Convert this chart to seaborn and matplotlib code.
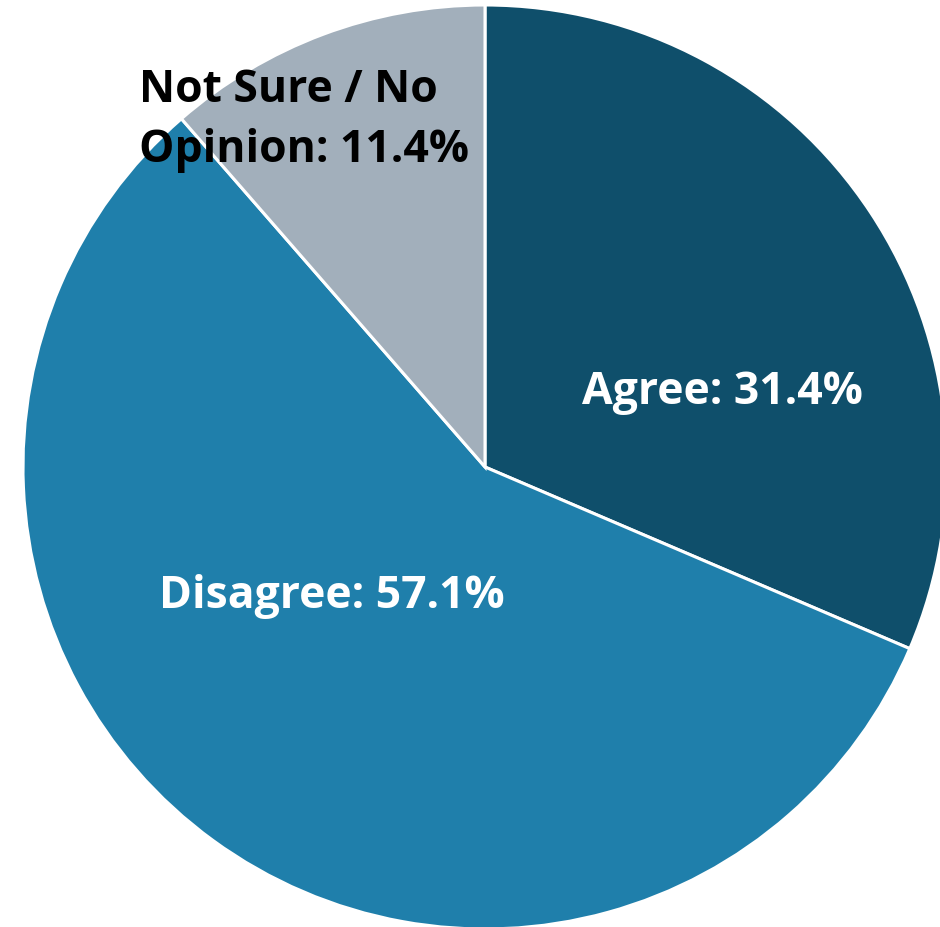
import matplotlib
matplotlib.use("Agg")
import matplotlib.pyplot as plt
import seaborn as sns

# survey result shares
categories = ["Agree", "Disagree", "Not Sure / No\nOpinion"]
shares = [31.4, 57.1, 11.4]
colors = ["#0f4f6b", "#1f7fab", "#a2afbb"]
label_colors = ["white", "white", "black"]

sns.set_style("white")
plt.rcParams['font.family'] = ['Open Sans', 'DejaVu Sans']

fig = plt.figure(figsize=(9.4, 9.27), dpi=100)
ax = fig.add_axes([0, 0, 1, 1])

ax.pie(
    shares,
    colors=colors,
    startangle=90,
    counterclock=False,
    radius=1.0,
    wedgeprops=dict(edgecolor="white", linewidth=2.2),
)

# label anchor spots (axes data units, pie radius = 1)
label_pos = [(0.513, 0.162, "center"), (-0.331, -0.281, "center"), (-0.749, 0.75, "left")]
for cat, val, col, (lx, ly, ha) in zip(categories, shares, label_colors, label_pos):
    ax.text(lx, ly, f"{cat}: {val}%", color=col, fontsize=32, fontweight="bold",
            ha=ha, va="center", multialignment="left", linespacing=1.42)

ax.set_xlim(-485 / 462, 455 / 462)
ax.set_ylim(-460 / 462, 467 / 462)
ax.set_aspect("auto")
ax.axis("off")

fig.savefig("out.png", dpi=100, facecolor="white")
